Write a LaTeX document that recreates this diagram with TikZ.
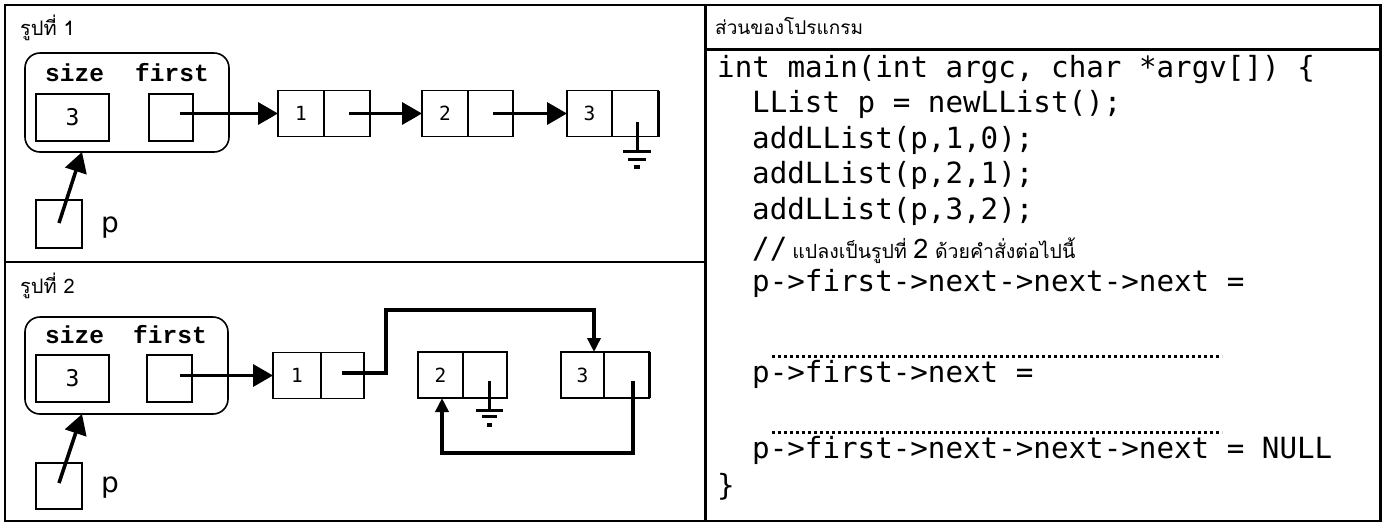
\documentclass[tikz,border=0pt]{standalone}
\usepackage{fontspec}
\setmainfont{DejaVu Sans}
\newfontfamily\codefont{DejaVu Sans Mono}
\newfontfamily\fieldfont{Liberation Mono}
\newfontfamily\numfont{DejaVu Sans Mono}
\newfontfamily\thaifont[Script=Thai]{Loma}
\usetikzlibrary{arrows.meta}
\tikzset{
  frameline/.style={line width=2.5pt},
  cell/.style={draw, line width=1.5pt, inner sep=0pt, outer sep=0pt, minimum height=46pt,
    font=\numfont\fontsize{19.5}{19.5}\selectfont},
  sizebox/.style={draw, line width=1.5pt, inner sep=0pt, outer sep=0pt, minimum height=47pt,
    font=\numfont\fontsize{23}{23}\selectfont},
  structbox/.style={draw, line width=1.6pt, rounded corners=15pt, inner sep=0pt, outer sep=0pt},
  fieldlabel/.style={anchor=base west, inner sep=0pt, font=\fieldfont\bfseries\fontsize{24.5}{24.5}\selectfont},
  varlabel/.style={anchor=base west, inner sep=0pt, font=\fontsize{28}{28}\selectfont},
  figlabel/.style={anchor=base west, inner sep=0pt, font=\thaifont\fontsize{20}{23}\selectfont},
  hdrlabel/.style={anchor=base west, inner sep=0pt, font=\thaifont\fontsize{19}{22}\selectfont},
  codeline/.style={anchor=base west, inner sep=0pt, font=\codefont\fontsize{29.2}{35}\selectfont},
  bigptr/.style={line width=3.5pt, -{Triangle[length=20pt,width=22pt]}},
  smallptr/.style={line width=3.5pt, -{Triangle[length=14pt,width=13pt]}},
  gndline/.style={line width=3pt},
  dotline/.style={line width=3pt, dash pattern=on 2.8pt off 3.2pt},
  thickedge/.style={line width=3pt}
}
\begin{document}
\begin{tikzpicture}[x=1pt,y=-1pt]
\useasboundingbox (0,0) rectangle (1386,523);
\fill[white] (0,0) rectangle (1386,523);

% ---------- frames ----------
\draw[frameline] (5,5) rectangle (1380.5,521);
\draw[frameline] (705.5,5) -- (705.5,521);
\draw[frameline] (5,262) -- (705.5,262);
\draw[frameline] (705.5,49.5) -- (1380.5,49.5);

% ---------- figure 1 ----------
\node[figlabel] (fig1lab) at (20,35) {รูปที่ 1};
\node[structbox, minimum width=204pt, minimum height=99pt] (st1) at (127,102.5) {};
\node[fieldlabel] (sz1) at (45,81) {size};
\node[fieldlabel] (fs1) at (135,81) {first};
\node[sizebox, minimum width=73pt] (sv1) at (72.5,117.5) {3};
\node[sizebox, minimum width=44pt] (fv1) at (171,117.5) {};
\node[draw, line width=1.5pt, minimum width=46pt, minimum height=48pt, inner sep=0pt] (pb1) at (59,224) {};
\node[varlabel] (pl1) at (101,232) {p};

\node[cell, minimum width=46pt] (a1v) at (301,113.5) {1};
\node[cell, minimum width=46pt] (a1p) at (347,113.5) {};
\node[cell, minimum width=46pt] (a2v) at (445,113.5) {2};
\node[cell, minimum width=45pt] (a2p) at (490.5,113.5) {};
\node[cell, minimum width=45pt] (a3v) at (589.5,113.5) {3};
\node[cell, minimum width=46pt] (a3p) at (635,113.5) {};
\draw[thickedge] (a3p.north east) -- (a3p.south east);

\coordinate (f1s) at (180,113.5);
\coordinate (a1s) at (349,113.5);
\coordinate (a2s) at (493,113.5);
\coordinate (p1s) at (59,223);
\coordinate (p1t) at (82,152);
\draw[bigptr] (f1s) -- (a1v.west);
\draw[bigptr] (a1s) -- (a2v.west);
\draw[bigptr] (a2s) -- (a3v.west);
\draw[bigptr] (p1s) -- (p1t);

% ground 1
\coordinate (g1) at (637,122);
\draw[gndline] (g1) -- ++(0,29) ++(-14,0) -- ++(28,0) ++(-23,8) -- ++(18,0);
\fill (g1) ++(-3,43) rectangle ++(6,4);

% ---------- figure 2 ----------
\node[figlabel] (fig2lab) at (20,293) {รูปที่ 2};
\node[structbox, minimum width=203pt, minimum height=97pt] (st2) at (126.5,365.5) {};
\node[fieldlabel] (sz2) at (45,343) {size};
\node[fieldlabel] (fs2) at (133,343) {first};
\node[sizebox, minimum width=73pt] (sv2) at (72.5,378.5) {3};
\node[sizebox, minimum width=45pt] (fv2) at (169.5,378.5) {};
\node[draw, line width=1.5pt, minimum width=46pt, minimum height=46pt, inner sep=0pt] (pb2) at (59,486) {};
\node[varlabel] (pl2) at (101,492) {p};

\node[cell, minimum width=48pt] (b1v) at (297,375.5) {1};
\node[cell, minimum width=43pt] (b1p) at (342.5,375.5) {};
\node[cell, minimum width=45pt] (b2v) at (440.5,375) {2};
\node[cell, minimum width=44pt] (b2p) at (485,375) {};
\node[cell, minimum width=43pt] (b3v) at (582.5,375) {3};
\node[cell, minimum width=45pt] (b3p) at (626.5,375) {};
\draw[thickedge] (b3p.north east) -- (b3p.south east);

\coordinate (f2s) at (180,375.5);
\coordinate (b1s) at (342,373);
\coordinate (b3s) at (633,381);
\coordinate (p2s) at (59,483);
\coordinate (p2t) at (82,414);
\draw[bigptr] (f2s) -- (b1v.west);
\draw[bigptr] (p2s) -- (p2t);
\draw[smallptr] (b1s) -- ++(44,0) -- ++(0,-63) -| ([xshift=11.5pt]b3v.north);
\draw[smallptr] (b3s) -- ++(0,72) -| ([xshift=1.5pt]b2v.south);

% ground 2
\coordinate (g2) at (489,381);
\draw[gndline] (g2) -- ++(0,29) ++(-13,0) -- ++(27,0) ++(-21,6) -- ++(15,0);
\fill (g2) ++(-2.5,42) rectangle ++(5,4);

% ---------- code panel ----------
\node[hdrlabel] (hdr) at (715,34) {ส่วนของโปรแกรม};
\node[codeline] (c1) at (717,77) {int main(int argc, char *argv[]) \{};
\node[codeline] (c2) at (752,112.5) {LList p = newLList();};
\node[codeline] (c3) at (752,148) {addLList(p,1,0);};
\node[codeline] (c4) at (752,183.5) {addLList(p,2,1);};
\node[codeline] (c5) at (752,219) {addLList(p,3,2);};
\node[codeline] (c6) at (752,258) {//\hspace{5pt}{\thaifont\fontsize{19.5}{22}\selectfont แปลงเป็นรูปที่ {\fontsize{27}{27}\selectfont 2} ด้วยคำสั่งต่อไปนี้}};
\node[codeline] (c7) at (752,291) {p->first->next->next->next =};
\node[codeline] (c8) at (752,382) {p->first->next =};
\node[codeline] (c9) at (752,458) {p->first->next->next->next = NULL};
\node[codeline] (c10) at (717,495) {\}};
\coordinate (d1a) at (772,356);
\coordinate (d1b) at (1222,356);
\coordinate (d2a) at (772,432);
\coordinate (d2b) at (1222,432);
\draw[dotline] (d1a) -- (d1b);
\draw[dotline] (d2a) -- (d2b);
\end{tikzpicture}
\end{document}
